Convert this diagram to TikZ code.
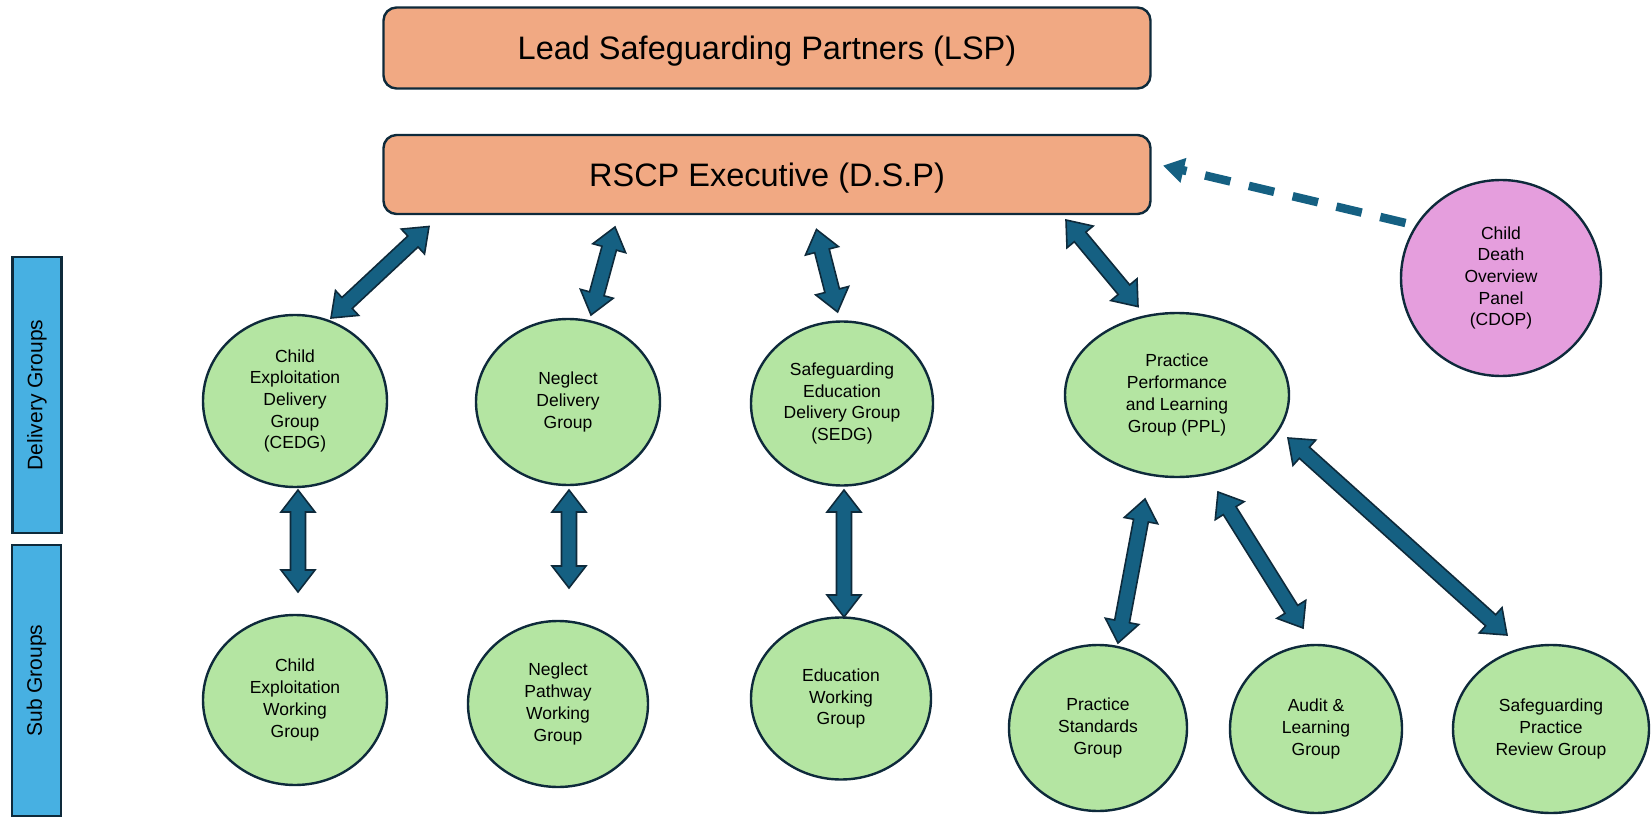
\documentclass[tikz,border=0pt]{standalone}
\usepackage{fontspec}
\setmainfont{Liberation Sans}
\usetikzlibrary{arrows.meta,calc,shapes.geometric}

\definecolor{leadfill}{HTML}{F1A983}
\definecolor{groupfill}{HTML}{B4E5A2}
\definecolor{panelfill}{HTML}{E59EDD}
\definecolor{barfill}{HTML}{47B0E2}
\definecolor{linkblue}{HTML}{156082}
\definecolor{edgedark}{HTML}{0E2A3B}

% block arrow with a head at both ends
\newcommand{\linkarrow}[2]{%
  \path (#1) coordinate (la) (#2) coordinate (lb);
  \draw[link] let \p1=($(lb)-(la)$), \n1={atan2(\y1,\x1)} in
    (la) -- ($(la)+(\n1:22pt)+(\n1+90:17pt)$) -- ($(la)+(\n1:22pt)+(\n1+90:7.5pt)$)
    -- ($(lb)+(\n1:-22pt)+(\n1+90:7.5pt)$) -- ($(lb)+(\n1:-22pt)+(\n1+90:17pt)$)
    -- (lb) -- ($(lb)+(\n1:-22pt)+(\n1-90:17pt)$) -- ($(lb)+(\n1:-22pt)+(\n1-90:7.5pt)$)
    -- ($(la)+(\n1:22pt)+(\n1-90:7.5pt)$) -- ($(la)+(\n1:22pt)+(\n1-90:17pt)$) -- cycle;}

\begin{document}
\begin{tikzpicture}[x=1pt,y=-1pt,
    leadbox/.style={draw=edgedark,line width=2.4pt,fill=leadfill,rounded corners=13pt,
      minimum width=767pt,inner sep=0pt,text height=23.3pt,text depth=0pt,
      font=\fontsize{32.5}{38}\selectfont},
    group/.style={ellipse,draw=edgedark,line width=2.4pt,fill=groupfill,inner sep=0pt,
      align=center,font=\fontsize{17.5}{21.7}\selectfont},
    bar/.style={draw=edgedark,line width=2.4pt,fill=barfill,minimum width=49pt,inner sep=0pt},
    link/.style={draw=edgedark,line width=1.6pt,fill=linkblue,line join=miter},
    dashlink/.style={draw=linkblue,line width=8.5pt,dash pattern=on 26pt off 19pt,
      -{Triangle[length=21pt,width=24pt]}}]

  \useasboundingbox (0,0) rectangle (1652,818);

  \node[leadbox,minimum height=81pt] (lsp) at (767,48) {Lead Safeguarding Partners (LSP)};
  \node[leadbox,minimum height=79pt] (exec) at (767,174.5) {RSCP Executive (D.S.P)};

  \node[bar,minimum height=276pt] (delivery) at (37,395) {};
  \node[rotate=90,font=\fontsize{21}{25}\selectfont] at (delivery) {Delivery Groups};
  \node[bar,minimum height=271pt] (sub) at (36.5,680.5) {};
  \node[rotate=90,font=\fontsize{21}{25}\selectfont] at (sub) {Sub Groups};

  % delivery groups
  \node[group,minimum width=184pt,minimum height=172pt] (cedg) at (295,401) {Child\\Exploitation\\Delivery\\Group\\(CEDG)};
  \node[group,minimum width=184pt,minimum height=166pt] (neglect) at (568,402) {Neglect\\Delivery\\Group};
  \node[group,minimum width=182pt,minimum height=164pt] (sedg) at (842,403.5) {Safeguarding\\Education\\Delivery Group\\(SEDG)};
  \node[group,minimum width=224pt,minimum height=164pt] (ppl) at (1177,395) {Practice\\Performance\\and Learning\\Group (PPL)};
  \node[group,fill=panelfill,minimum width=200pt,minimum height=196pt] (cdop) at (1501,278) {Child\\Death\\Overview\\Panel\\(CDOP)};

  % sub groups
  \node[group,minimum width=184pt,minimum height=170pt] (cewg) at (295,700) {Child\\Exploitation\\Working\\Group};
  \node[group,minimum width=180pt,minimum height=166pt] (npwg) at (558,704) {Neglect\\Pathway\\Working\\Group};
  \node[group,minimum width=180pt,minimum height=162pt] (ewg) at (841,698.5) {Education\\Working\\Group};
  \node[group,minimum width=178pt,minimum height=166pt] (psg) at (1098,728) {Practice\\Standards\\Group};
  \node[group,minimum width=172pt,minimum height=168pt] (alg) at (1316,729) {Audit \&\\Learning\\Group};
  \node[group,minimum width=196pt,minimum height=168pt] (sprg) at (1551,729) {Safeguarding\\Practice\\Review Group};

  \linkarrow{[shift={(-338,52)}]exec.center}{[shift={(36,-83)}]cedg.center}
  \linkarrow{[shift={(-152,52.5)}]exec.center}{[shift={(23,-87)}]neglect.center}
  \linkarrow{[shift={(49.5,55)}]exec.center}{[shift={(-4.4,-91.5)}]sedg.center}
  \linkarrow{[shift={(299,45.5)}]exec.center}{[shift={(-39,-88.4)}]ppl.center}

  \linkarrow{[shift={(3,89)}]cedg.center}{[shift={(3,-108)}]cewg.center}
  \linkarrow{[shift={(1,88)}]neglect.center}{[shift={(11,-116)}]npwg.center}
  \linkarrow{[shift={(2,86.5)}]sedg.center}{[shift={(3,-81.5)}]ewg.center}
  \linkarrow{[shift={(-32,104)}]ppl.center}{[shift={(20,-85)}]psg.center}
  \linkarrow{[shift={(41,97)}]ppl.center}{[shift={(-13,-101)}]alg.center}
  \linkarrow{[shift={(111,43)}]ppl.center}{[shift={(-44,-94)}]sprg.center}

  \draw[dashlink] ([shift={(-95.5,-55)}]cdop.center) -- ([shift={(396,-9)}]exec.center);

\end{tikzpicture}
\end{document}
